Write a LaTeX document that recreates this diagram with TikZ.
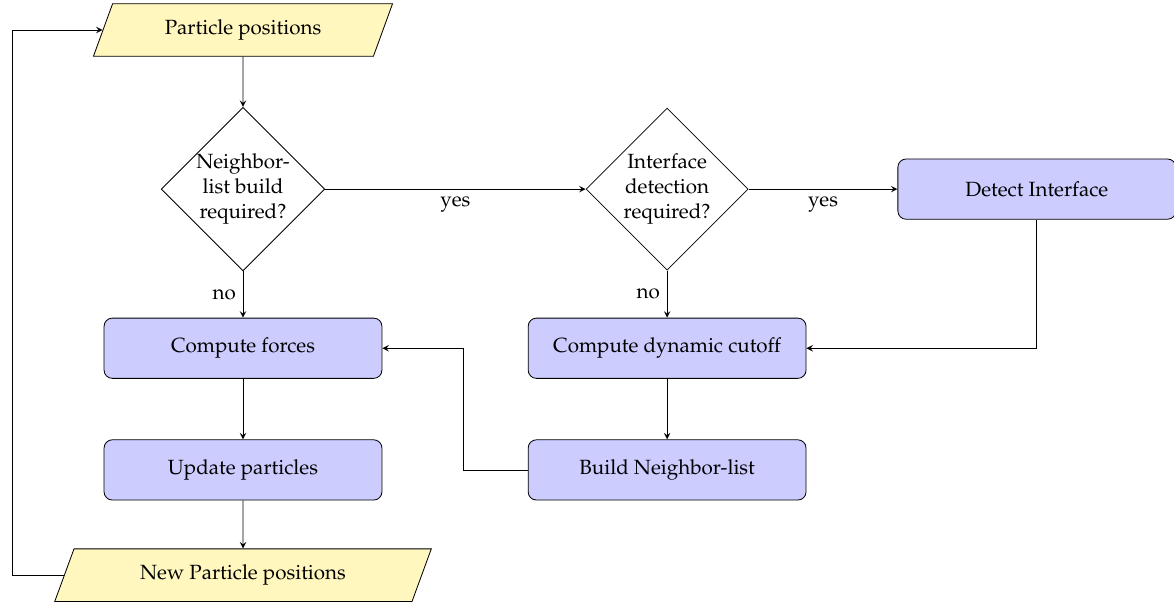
\documentclass[tikz,border=0pt]{standalone}
\usepackage[T1]{fontenc}
\usepackage{mathpazo}
\usepackage{tikz}
\usetikzlibrary{shapes.geometric}
\definecolor{iocolor}{RGB}{255, 247, 190}
\definecolor{proccolor}{RGB}{204, 204, 255}
\tikzset{
    procbox/.style={draw, fill=proccolor, rounded corners, minimum width=4.75cm, minimum height=1.03cm},
    iobox/.style={draw, fill=iocolor, trapezium, trapezium left angle=70, trapezium right angle=110, trapezium stretches=true, minimum height=0.9cm},
    decision/.style={draw, diamond, aspect=1, inner sep=0pt, minimum width=2.77cm, minimum height=2.77cm, align=center},
    flowline/.style={-stealth}
}

\begin{document}
\begin{tikzpicture}
    \useasboundingbox (-4.154,0.513) rectangle (15.915,-9.846);

    % Input / output
    \node[iobox, minimum width=5.13cm] (pp) at (0,0) {Particle positions};
    \node[iobox, minimum width=6.44cm] (np) at (0,-9.32) {New Particle positions};

    % Decisions
    \node[decision] (d1) at (0,-2.72) {Neighbor-\\list build\\required?};
    \node[decision] (d2) at (7.25,-2.72) {Interface\\detection\\required?};

    % Processes
    \node[procbox] (di) at (13.57,-2.72) {Detect Interface};
    \node[procbox] (cf) at (0,-5.44) {Compute forces};
    \node[procbox] (cd) at (7.25,-5.44) {Compute dynamic cutoff};
    \node[procbox] (up) at (0,-7.52) {Update particles};
    \node[procbox] (bn) at (7.25,-7.52) {Build Neighbor-list};

    % Loop corners
    \coordinate (loopleft) at (-3.95,0);
    \coordinate (loopmid) at (3.76,0);

    % Connectors
    \draw[flowline] (pp) -- (d1);
    \draw[flowline] (d1) -- node[below] {yes} (d2);
    \draw[flowline] (d2) -- node[below] {yes} (di);
    \draw[flowline] (d1) -- node[left] {no} (cf);
    \draw[flowline] (d2) -- node[left] {no} (cd);
    \draw[flowline] (di) |- (cd);
    \draw[flowline] (cd) -- (bn);
    \draw[flowline] (bn.west) -- (bn.west -| loopmid) |- (cf.east);
    \draw[flowline] (cf) -- (up);
    \draw[flowline] (up) -- (np);
    \draw[flowline] (np.west) -- (np.west -| loopleft) |- (pp.west);
\end{tikzpicture}
\end{document}
